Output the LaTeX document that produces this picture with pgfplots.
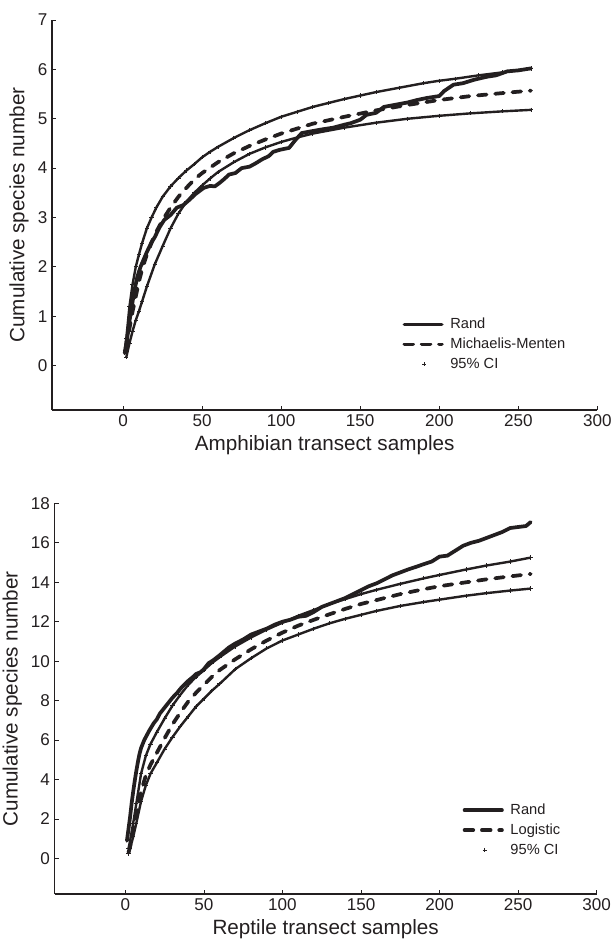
\documentclass[border=0pt]{standalone}
\usepackage{fontspec}
\setmainfont{Liberation Sans}
\usepackage{pgfplots}
\pgfplotsset{compat=1.18}

\definecolor{ink}{HTML}{231F20}

\pgfplotsset{curvefig/.style={scale only axis, axis lines=left, axis line style={-, line width=0.8pt, ink},
  tick style={ink, line width=0.6pt}, major tick length=3pt, tick align=inside,
  xmin=-45, xmax=300, xtick={0,50,...,300},
  /pgf/number format/assume math mode=true,
  tick label style={font=\fontsize{12.8}{14}\selectfont, text=ink},
  label style={font=\fontsize{15.5}{18}\selectfont, text=ink},
  legend style={draw=none, fill=none, font=\fontsize{11}{13}\selectfont, text=ink, anchor=north west, row sep=1.5pt},
  legend cell align=left,
  legend image code/.code={\draw[#1] (0pt,0pt) -- (28pt,0pt); \path (31pt,0pt);}}}
\pgfplotsset{rand/.style={ink, line width=2.8pt, line join=round, line cap=round},
  fit/.style={ink, line width=2.8pt, dash pattern=on 6.5pt off 6.5pt, line cap=round},
  ci/.style={ink, line width=1.8pt, mark=+, mark size=1.6pt, mark options={solid, line width=0.6pt}},
  cileg/.style={legend image code/.code={\draw[##1, only marks, mark size=1.5pt] plot coordinates {(15pt,0pt)}; \path (0pt,0pt) (31pt,0pt);}}}

\begin{document}
\begin{tikzpicture}
\useasboundingbox (0,0) rectangle (460pt,-705pt);

% amphibians
\begin{axis}[curvefig, at={(39pt,-307.5pt)}, anchor=south west, width=409pt, height=292.5pt,
  ymin=-0.9, ymax=7, ytick={0,1,...,7},
  xlabel={Amphibian transect samples}, ylabel={Cumulative species number},
  legend style={at={(rel axis cs:0.635,0.25)}}]
\addplot[rand] coordinates {(1,0.25) (2,0.45) (3,0.65) (4,0.9) (5,1.1) (6,1.3) (7,1.5) (8,1.65) (9,1.8) (10,1.9) (11,2.0) (13,2.15) (15,2.3) (18,2.5) (20,2.6) (23,2.8) (26,2.95) (30,3.05) (34,3.2) (38,3.25) (42,3.36) (46,3.48) (51,3.6) (55,3.64) (58,3.63) (61,3.7) (64,3.78) (67,3.87) (71,3.9) (75,4.0) (80,4.03) (84,4.1) (88,4.18) (92,4.24) (95,4.33) (99,4.37) (105,4.41) (109,4.57) (113,4.71) (118,4.74) (125,4.78) (133,4.82) (140,4.88) (144,4.91) (150,4.98) (154,5.08) (160,5.12) (165,5.24) (170,5.27) (175,5.30) (180,5.33) (186,5.38) (192,5.42) (196,5.44) (200,5.46) (203,5.56) (209,5.69) (215,5.72) (222,5.79) (230,5.85) (236,5.88) (243,5.96) (250,5.98) (258,6.02)};
\addlegendentry{Rand}
\addplot[fit] coordinates {(2,0.35) (4,0.75) (6,1.1) (8,1.4) (10,1.7) (12,1.95) (15,2.25) (20,2.65) (25,2.95) (30,3.2) (35,3.42) (40,3.6) (45,3.77) (50,3.9) (60,4.12) (70,4.3) (80,4.45) (90,4.58) (100,4.7) (110,4.8) (120,4.9) (140,5.04) (160,5.17) (180,5.28) (200,5.38) (220,5.46) (240,5.52) (258,5.57)};
\addlegendentry{Michaelis-Menten}
\addplot[ci, cileg] coordinates {(1,0.3) (2,0.55) (4,1.2) (6,1.65) (8,2.0) (10,2.25) (12,2.48) (15,2.78) (18,3.0) (21,3.2) (25,3.42) (30,3.63) (35,3.8) (40,3.95) (45,4.08) (50,4.22) (55,4.33) (60,4.43) (70,4.61) (80,4.77) (90,4.91) (100,5.04) (110,5.14) (120,5.24) (130,5.32) (140,5.40) (150,5.47) (160,5.54) (175,5.63) (190,5.72) (200,5.77) (210,5.81) (225,5.88) (240,5.94) (258,6.02)};
\addlegendentry{95\% CI}
\addplot[ci, forget plot] coordinates {(2,0.17) (4,0.45) (6,0.7) (8,0.92) (10,1.1) (12,1.3) (15,1.6) (20,2.05) (25,2.42) (30,2.78) (35,3.08) (40,3.32) (45,3.5) (50,3.65) (55,3.79) (60,3.92) (70,4.12) (80,4.29) (90,4.42) (100,4.53) (110,4.62) (120,4.7) (140,4.82) (160,4.92) (180,5.0) (200,5.06) (220,5.11) (240,5.15) (258,5.18)};
\end{axis}

% reptiles
\begin{axis}[curvefig, at={(41pt,-670.5pt)}, anchor=south west, width=406.5pt, height=293pt,
  ymin=-1.8, ymax=18, ytick={0,2,...,18},
  xlabel={Reptile transect samples}, ylabel={Cumulative species number},
  legend style={at={(rel axis cs:0.745,0.245)}}]
\addplot[rand] coordinates {(1,0.9) (2,1.5) (3,2.1) (4,2.8) (5,3.4) (6,3.95) (7,4.45) (8,4.9) (9,5.3) (10,5.6) (12,6.0) (15,6.45) (18,6.85) (20,7.05) (22,7.35) (25,7.65) (28,7.95) (30,8.15) (33,8.4) (35,8.6) (38,8.85) (40,9.0) (43,9.2) (45,9.35) (48,9.45) (50,9.6) (53,9.9) (56,10.05) (60,10.3) (63,10.5) (66,10.7) (70,10.9) (75,11.1) (80,11.35) (85,11.5) (90,11.65) (95,11.85) (100,12.0) (105,12.1) (110,12.25) (115,12.3) (120,12.5) (125,12.75) (130,12.9) (135,13.05) (140,13.2) (145,13.4) (150,13.6) (155,13.8) (160,13.95) (165,14.15) (170,14.35) (175,14.5) (180,14.65) (185,14.78) (190,14.92) (195,15.05) (200,15.3) (205,15.35) (210,15.6) (215,15.85) (220,16.0) (225,16.1) (230,16.25) (235,16.4) (240,16.55) (245,16.75) (250,16.8) (255,16.85) (258,17.05)};
\addlegendentry{Rand}
\addplot[fit] coordinates {(2,0.3) (3,0.6) (5,1.4) (7,2.2) (10,3.4) (13,4.2) (16,4.75) (20,5.35) (25,6.1) (30,6.8) (35,7.4) (40,7.95) (45,8.4) (50,8.8) (55,9.2) (60,9.55) (70,10.1) (80,10.6) (90,11.05) (100,11.45) (110,11.8) (120,12.1) (130,12.38) (140,12.65) (150,12.9) (160,13.1) (175,13.4) (190,13.65) (200,13.8) (217,14.0) (230,14.15) (245,14.3) (258,14.42)};
\addlegendentry{Logistic}
\addplot[ci, cileg] coordinates {(2,0.5) (3,0.9) (5,1.8) (7,2.8) (10,4.3) (13,5.2) (16,5.8) (20,6.4) (25,7.1) (30,7.75) (35,8.3) (40,8.8) (45,9.2) (50,9.55) (55,9.9) (60,10.2) (70,10.75) (80,11.2) (90,11.6) (100,11.95) (110,12.3) (120,12.6) (130,12.9) (140,13.15) (150,13.4) (160,13.62) (175,13.92) (190,14.2) (200,14.37) (217,14.65) (230,14.85) (245,15.05) (258,15.25)};
\addlegendentry{95\% CI}
\addplot[ci, forget plot] coordinates {(2,0.25) (3,0.5) (5,1.1) (7,1.8) (10,2.9) (13,3.7) (16,4.3) (20,4.85) (25,5.55) (30,6.15) (35,6.7) (40,7.2) (45,7.7) (50,8.1) (55,8.5) (60,8.85) (70,9.6) (80,10.15) (90,10.65) (100,11.05) (110,11.35) (120,11.65) (130,11.92) (140,12.15) (150,12.35) (160,12.55) (175,12.8) (190,13.0) (200,13.12) (217,13.32) (230,13.45) (245,13.58) (258,13.68)};
\end{axis}
\end{tikzpicture}
\end{document}
